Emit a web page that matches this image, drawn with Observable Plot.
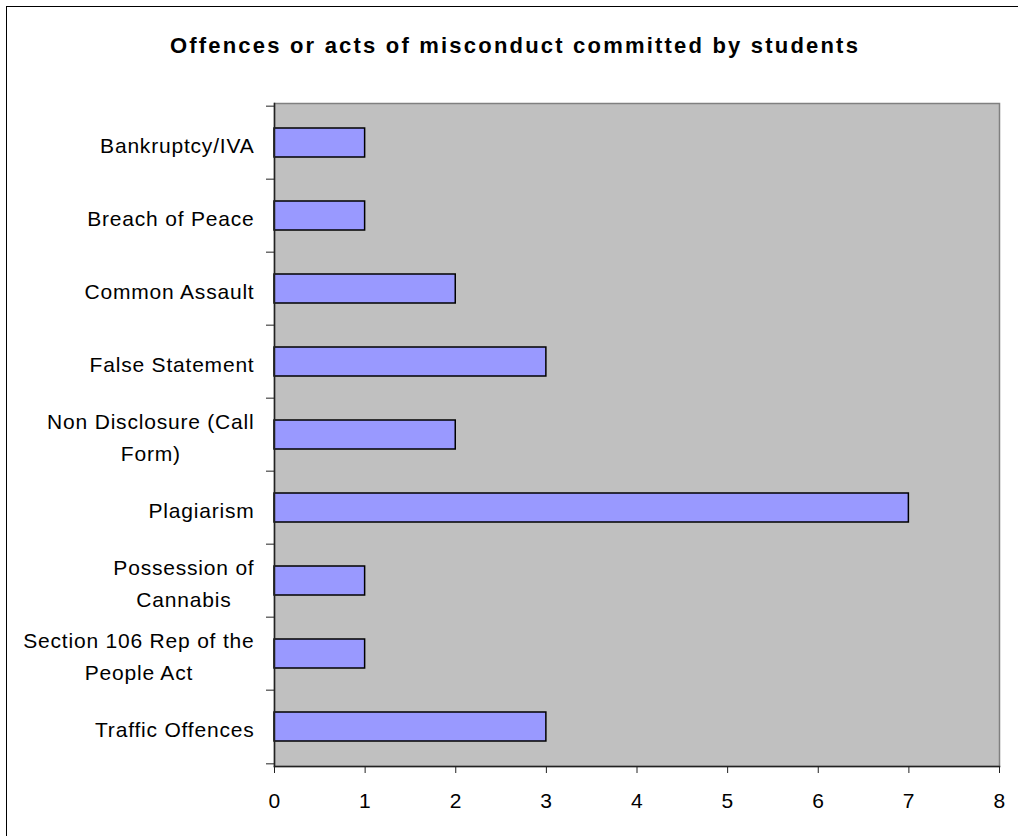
<!DOCTYPE html>
<html>
<head>
<meta charset="utf-8">
<script src="https://cdn.jsdelivr.net/npm/d3@7"></script>
<script src="https://cdn.jsdelivr.net/npm/@observablehq/plot@0.6"></script>
<style>
  html, body { margin: 0; padding: 0; background: #fff; }
  #wrap { position: relative; width: 1018px; height: 836px; overflow: hidden; font-family: "Liberation Sans", Arial, sans-serif; }
  #border { position: absolute; left: 6px; top: 6px; width: 1030px; height: 850px; border: 1.5px solid #000; box-sizing: border-box; }
  #title { position: absolute; left: 0; width: 1030px; top: 33px; text-align: center; font-weight: bold; font-size: 22px; letter-spacing: 2.2px; color: #000; }
  #chart { position: absolute; left: 0; top: 0; }
  g[aria-label="y-axis tick label"] text { letter-spacing: 0.8px; }
  g[aria-label="x-axis tick label"] text { letter-spacing: 0.5px; }
</style>
</head>
<body>
<div id="wrap">
  <div id="border"></div>
  <div id="chart"></div>
  <div id="title">Offences or acts of misconduct committed by students</div>
</div>
<script>
const categories = [
  "Bankruptcy/IVA",
  "Breach of Peace",
  "Common Assault",
  "False Statement",
  "Non Disclosure (Call Form)",
  "Plagiarism",
  "Possession of Cannabis",
  "Section 106 Rep of the People Act",
  "Traffic Offences"
];
const counts = [1, 1, 2, 3, 2, 7, 1, 1, 3];
const tickLabels = [
  "Bankruptcy/IVA",
  "Breach of Peace",
  "Common Assault",
  "False Statement",
  "Non Disclosure (Call\nForm)",
  "Plagiarism",
  "Possession of\nCannabis",
  "Section 106 Rep of the\nPeople Act",
  "Traffic Offences"
];
const xTicks = [0, 1, 2, 3, 4, 5, 6, 7, 8];

const data = categories.map((c, i) => ({category: c, count: counts[i]}));
const labelOf = new Map(categories.map((c, i) => [c, tickLabels[i]]));

const W = 1018, H = 836;
const mT = 103, mB = 70, mL = 274, mR = 19;
const step = (H - mT - mB) / categories.length;

const chart = Plot.plot({
  width: W,
  height: H,
  marginTop: mT,
  marginBottom: mB,
  marginLeft: mL,
  marginRight: mR,
  style: {fontFamily: "Liberation Sans, Arial, sans-serif", fontSize: "21px", color: "#000", background: "transparent"},
  x: {domain: [0, 8], ticks: xTicks},
  y: {domain: categories, paddingInner: 0, paddingOuter: 0},
  marks: [
    Plot.frame({fill: "#c0c0c0", stroke: "#808080", strokeWidth: 1.5}),
    Plot.barX(data, {
      x: "count", y: "category",
      fill: "#9999ff", stroke: "#000", strokeWidth: 1.5,
      insetTop: 22, insetBottom: 22
    }),
    Plot.frame({anchor: "left", stroke: "#222", strokeWidth: 1.5}),
    Plot.frame({anchor: "bottom", stroke: "#222", strokeWidth: 1.5}),
    // y labels
    Plot.axisY({
      tickSize: 0, tickPadding: 20, fontSize: 21, lineHeight: 1.52,
      tickFormat: d => labelOf.get(d), label: null, fill: "#000"
    }),
    // y boundary ticks (top of each band)
    Plot.axisY({tickSize: 8, text: null, label: null, dy: -step / 2, stroke: "#222"}),
    // bottom boundary tick
    Plot.axisY({ticks: [categories[categories.length - 1]], tickSize: 8, text: null, label: null, dy: step / 2, stroke: "#222"}),
    Plot.axisX({ticks: xTicks, tickSize: 7, tickPadding: 20, fontSize: 21, label: null, stroke: "#222", fill: "#000"})
  ]
});

document.getElementById("chart").appendChild(chart);

// Center the lines of wrapped y labels while keeping the block right-aligned
const svg = chart.tagName.toLowerCase() === "svg" ? chart : chart.querySelector("svg");
svg.querySelectorAll('g[aria-label="y-axis tick label"] text').forEach(t => {
  const spans = t.querySelectorAll("tspan");
  if (spans.length > 1) {
    const w = t.getBBox().width;
    t.setAttribute("text-anchor", "middle");
    spans.forEach(s => s.setAttribute("x", -w / 2));
  }
});
</script>
</body>
</html>
